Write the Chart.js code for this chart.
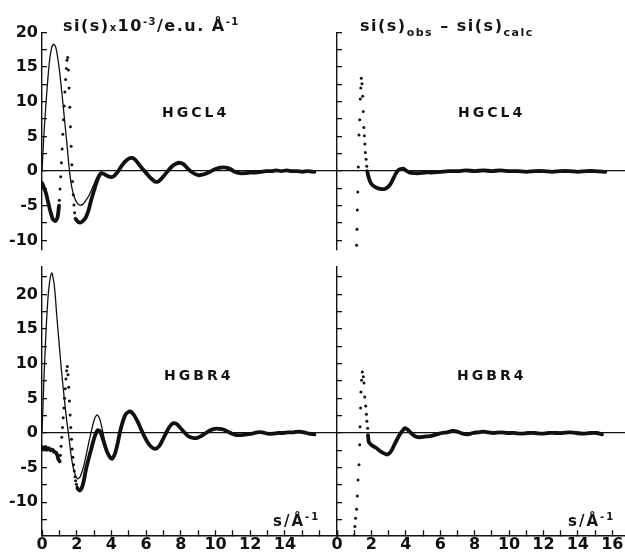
<!DOCTYPE html>
<html>
<head>
<meta charset="utf-8">
<script src="https://cdn.jsdelivr.net/npm/chart.js@4.4.0/dist/chart.umd.min.js"></script>
<style>
html,body{margin:0;padding:0;background:#fff;}
#wrap{position:relative;width:625px;height:555px;overflow:hidden;background:#fff;font-family:"DejaVu Sans",sans-serif;font-weight:bold;color:#141414;}
.pane{position:absolute;}
.pane canvas{display:block;}
.txt{position:absolute;white-space:nowrap;z-index:5;}
.sup{font-size:10px;position:relative;top:-6px;}
.sub{font-size:11px;position:relative;top:5px;}
</style>
</head>
<body>
<div id="wrap">
  <div class="pane" style="left:0;top:0;"><canvas id="cTL" width="340" height="258"></canvas></div>
  <div class="pane" style="left:320px;top:0;"><canvas id="cTR" width="305" height="258"></canvas></div>
  <div class="pane" style="left:0;top:258px;"><canvas id="cBL" width="340" height="297"></canvas></div>
  <div class="pane" style="left:320px;top:258px;"><canvas id="cBR" width="305" height="297"></canvas></div>

  <div class="txt" style="left:63px;top:18px;font-size:16px;line-height:16px;letter-spacing:1.5px;">si(s)<span style="font-size:10px;">x</span>10<span class="sup">-3</span>/e.u.&nbsp;Å<span class="sup">-1</span></div>
  <div class="txt" style="left:360px;top:18px;font-size:16px;line-height:16px;letter-spacing:1.5px;">si(s)<span class="sub">obs</span> – si(s)<span class="sub">calc</span></div>

  <div class="txt" style="left:162px;top:105px;font-size:14px;line-height:14px;letter-spacing:3px;">HGCL4</div>
  <div class="txt" style="left:458px;top:105px;font-size:14px;line-height:14px;letter-spacing:3px;">HGCL4</div>
  <div class="txt" style="left:164px;top:368px;font-size:14px;line-height:14px;letter-spacing:3px;">HGBR4</div>
  <div class="txt" style="left:457px;top:368px;font-size:14px;line-height:14px;letter-spacing:3px;">HGBR4</div>

  <div class="txt" style="left:273px;top:514px;font-size:15px;line-height:15px;letter-spacing:2px;">s/Å<span class="sup">-1</span></div>
  <div class="txt" style="left:568px;top:514px;font-size:15px;line-height:15px;letter-spacing:2px;">s/Å<span class="sup">-1</span></div>
</div>

<script>
// ---------------- DATA ----------------
// tick labels
const yTickLabels = [-10, -5, 0, 5, 10, 15, 20];
const xTickLabelsLeft = [0, 2, 4, 6, 8, 10, 12, 14];
const xTickLabelsRight = [0, 2, 4, 6, 8, 10, 12, 14, 16];

// HGCL4, left panel: calculated curve (thin line)
const clCalcS = [0,0.1,0.23,0.42,0.55,0.68,0.82,1.0,1.15,1.29,1.45,1.58,1.72,1.87,2.02,2.16,2.35,2.54,2.75,2.93,3.1,3.31,3.5,3.64];
const clCalcV = [0,4.8,9.8,15.6,17.7,18.3,17.6,14.6,11.2,7.6,3.6,0.1,-2.4,-3.8,-4.6,-4.9,-4.8,-4.2,-3.3,-2.3,-1.3,-0.4,-0.2,-0.5];
// HGCL4, left panel: observed curve (thick), low-s part
const clObsLowS = [0,0.1,0.23,0.42,0.62,0.77,0.9,0.98];
const clObsLowV = [-1.7,-2.3,-3.2,-5.2,-6.9,-7.2,-6.6,-5.0];
// HGCL4, left panel: dotted points
const clDotS = [1.00,1.04,1.08,1.12,1.16,1.20,1.24,1.28,1.32,1.36,1.40,1.44,1.48,1.52,1.56,1.60,1.64,1.68,1.72,1.76,1.80,1.84,1.88,1.92];
const clDotV = [-4.2,-2.6,-0.8,1.2,3.2,5.3,7.4,9.4,11.4,13.2,14.8,16.0,16.4,14.6,12.0,9.2,6.4,3.6,0.9,-1.5,-3.4,-4.9,-6.0,-6.8];
// HGCL4, left panel: observed curve (thick), main part
const clObsS = [1.95,2.05,2.15,2.25,2.4,2.54,2.7,2.83,3.0,3.12,3.25,3.41,3.55,3.7,3.85,4.03,4.15,4.3,4.45,4.6,4.8,5.0,5.18,5.35,5.55,5.8,6.05,6.3,6.5,6.65,6.8,7.05,7.28,7.5,7.75,7.95,8.15,8.35,8.55,8.8,9.03,9.25,9.5,9.75,10.0,10.3,10.6,10.85,11.1,11.4,11.7,12.0,12.3,12.6,12.9,13.2,13.5,13.8,14.1,14.4,14.7,15.0,15.3,15.7];
const clObsV = [-6.95,-7.25,-7.4,-7.4,-7.1,-6.6,-5.5,-4.2,-2.8,-1.8,-0.9,-0.3,-0.4,-0.6,-0.8,-0.85,-0.7,-0.3,0.2,0.8,1.4,1.8,1.9,1.7,1.1,0.3,-0.4,-1.1,-1.5,-1.55,-1.3,-0.6,0.1,0.7,1.1,1.2,1.0,0.5,0.0,-0.4,-0.6,-0.5,-0.3,0.0,0.3,0.5,0.5,0.3,-0.1,-0.3,-0.3,-0.2,-0.2,-0.1,0.0,0.0,0.1,0.0,0.1,0.0,0.0,-0.1,0.0,-0.1];

// HGCL4, right panel: obs - calc
const clDiffDotS = [1.14,1.16,1.18,1.21,1.24,1.28,1.32,1.35,1.38,1.41,1.45,1.49,1.53,1.56,1.59,1.62,1.65,1.69,1.73];
const clDiffDotV = [-10.7,-8.4,-5.6,-3.0,0.6,5.2,7.4,10.4,12.0,13.4,12.6,10.8,8.6,6.3,5.1,3.9,2.7,1.7,0.7];
const clDiffS = [1.76,1.85,1.96,2.1,2.3,2.5,2.73,2.9,3.1,3.25,3.41,3.55,3.7,3.85,4.0,4.2,4.5,4.8,5.1,5.5,6.0,6.5,7.0,7.5,8.0,8.5,9.0,9.5,10.0,10.5,11.0,11.5,12.0,12.5,13.0,13.5,14.0,14.5,15.0,15.6];
const clDiffV = [0.0,-1.0,-1.7,-2.1,-2.4,-2.55,-2.6,-2.4,-1.9,-1.2,-0.4,0.1,0.3,0.35,0.1,-0.2,-0.3,-0.3,-0.2,-0.2,-0.1,0.0,0.0,0.1,0.0,0.1,0.0,0.1,0.0,0.0,-0.1,0.0,0.0,-0.1,0.0,0.0,-0.1,0.0,0.0,-0.1];

// HGBR4, left panel: calculated curve (thin line)
const brCalcS = [0,0.1,0.2,0.3,0.4,0.55,0.7,0.85,1.0,1.15,1.3,1.45,1.52,1.7,1.85,2.05,2.2,2.4,2.6,2.8,3.0,3.16,3.3,3.45,3.6,3.75,3.9,4.05];
const brCalcV = [0,7,13,17.8,21,23.1,21.5,17,12.5,8.3,4.6,1.3,0,-3.6,-5.5,-6.6,-6.3,-4.8,-2.5,-0.2,1.8,2.6,2.2,0.8,-1.0,-2.4,-3.4,-3.7];
// HGBR4, left panel: observed (thick), low-s part
const brObsLowS = [0,0.1,0.2,0.3,0.4,0.5,0.6,0.7,0.8,0.88,0.95,1.02];
const brObsLowV = [-2.0,-2.3,-2.0,-2.4,-2.2,-2.5,-2.4,-2.7,-2.8,-3.2,-3.8,-4.1];
// HGBR4, left panel: dotted points
const brDotS = [1.06,1.10,1.14,1.18,1.22,1.26,1.30,1.34,1.38,1.42,1.46,1.50,1.54,1.58,1.62,1.66,1.70,1.74,1.78,1.82,1.86,1.90,1.94,1.98,2.02];
const brDotV = [-3.2,-1.9,-0.6,0.8,2.2,3.6,5.0,6.4,7.8,9.0,9.6,8.4,6.6,4.6,2.6,0.8,-0.9,-2.3,-3.5,-4.6,-5.5,-6.3,-6.9,-7.4,-7.8];
// HGBR4, left panel: observed (thick), main part
const brObsS = [2.05,2.16,2.28,2.4,2.54,2.7,2.83,3.0,3.2,3.35,3.5,3.65,3.8,3.95,4.05,4.2,4.35,4.5,4.65,4.8,4.95,5.1,5.3,5.5,5.7,5.9,6.1,6.3,6.53,6.75,6.95,7.15,7.35,7.55,7.75,7.95,8.2,8.45,8.7,8.95,9.2,9.45,9.7,9.95,10.2,10.45,10.7,10.95,11.2,11.5,11.8,12.1,12.4,12.7,13.0,13.3,13.6,13.9,14.2,14.5,14.8,15.1,15.4,15.7];
const brObsV = [-8.0,-8.3,-8.0,-7.0,-5.2,-3.6,-2.4,-0.8,0.4,0.2,-0.8,-2.0,-3.0,-3.6,-3.7,-3.0,-1.6,0.2,1.6,2.6,3.0,3.1,2.6,1.7,0.6,-0.5,-1.4,-2.0,-2.3,-1.9,-1.0,0.0,0.9,1.4,1.3,0.8,0.1,-0.5,-0.7,-0.7,-0.4,0.0,0.4,0.6,0.6,0.5,0.2,-0.1,-0.3,-0.3,-0.2,-0.1,0.1,0.1,-0.1,-0.1,0.0,0.0,0.1,0.1,0.2,0.1,-0.1,-0.2];

// HGBR4, right panel: obs - calc
const brDiffDotS = [0.99,1.04,1.08,1.14,1.18,1.22,1.28,1.32,1.34,1.37,1.39,1.43,1.47,1.53,1.57,1.61,1.67,1.71,1.74,1.78];
const brDiffDotV = [-14.8,-13.5,-12.3,-11.0,-9.1,-6.8,-4.6,-1.7,0.9,3.6,5.9,7.6,8.8,8.1,7.2,5.2,3.9,2.7,1.7,0.7];
const brDiffS = [1.8,1.85,1.95,2.1,2.3,2.5,2.7,2.9,3.05,3.2,3.35,3.5,3.65,3.8,3.95,4.1,4.3,4.5,4.7,4.9,5.2,5.5,5.8,6.1,6.4,6.7,7.0,7.3,7.6,7.9,8.2,8.5,8.8,9.1,9.5,9.9,10.3,10.7,11.1,11.5,11.9,12.3,12.7,13.1,13.5,13.9,14.3,14.7,15.1,15.4];
const brDiffV = [-0.3,-1.3,-1.6,-1.9,-2.2,-2.6,-2.9,-3.1,-2.9,-2.4,-1.6,-0.9,-0.2,0.3,0.7,0.5,0.0,-0.4,-0.6,-0.6,-0.5,-0.4,-0.2,0.0,0.1,0.3,0.2,-0.1,-0.2,0.0,0.1,0.2,0.1,0.0,0.1,0.0,0.0,-0.1,0.0,0.0,-0.1,0.0,0.0,0.0,0.1,0.0,-0.1,0.0,0.0,-0.2];

// ---------------- CHART BUILDING ----------------
const INK = '#111111';
const FONT = "'DejaVu Sans', sans-serif";
const pts = (s, v) => s.slice(0, Math.min(s.length, v.length)).map((x, i) => ({x: x, y: v[i]}));

const thick = (s, v) => ({data: pts(s, v), showLine: true, borderColor: INK, borderWidth: 3.8, pointRadius: 0, tension: 0.3, fill: false, borderCapStyle: 'round', borderJoinStyle: 'round'});
const thin = (s, v) => ({data: pts(s, v), showLine: true, borderColor: INK, borderWidth: 1.3, pointRadius: 0, tension: 0.3, fill: false});
const dots = (s, v) => ({data: pts(s, v), showLine: false, pointRadius: 1.5, pointBackgroundColor: INK, pointBorderWidth: 0, pointBorderColor: INK});

// regular ticks every `step` between the scale's min and max
function stepTicks(step) {
  return (scale) => {
    const out = [];
    const first = Math.ceil(scale.min / step - 1e-9);
    const last = Math.floor(scale.max / step + 1e-9);
    for (let k = first; k <= last; k++) out.push({value: Math.round(k * step * 1000) / 1000});
    scale.ticks = out;
  };
}

function panel(id, o) {
  new Chart(document.getElementById(id), {
    type: 'scatter',
    data: {datasets: o.datasets},
    options: {
      responsive: false,
      animation: false,
      devicePixelRatio: 1,
      events: [],
      layout: {autoPadding: false, padding: o.pad},
      plugins: {legend: {display: false}, tooltip: {enabled: false}, title: {display: false}},
      scales: {
        x: {
          type: 'linear', min: 0, max: o.xmax, display: o.showX,
          border: {display: true, color: INK, width: 1.4},
          grid: {drawOnChartArea: false, tickLength: -5, tickColor: INK, tickWidth: 1.3},
          ticks: {
            stepSize: 1, autoSkip: false, maxRotation: 0, padding: 5, color: INK,
            font: {family: FONT, size: 16, weight: 'bold'},
            callback: (v) => o.xLabels.includes(v) ? String(v) : ''
          },
          afterBuildTicks: stepTicks(1),
          afterFit: (s) => { s.height = o.xh; s.paddingLeft = 0; s.paddingRight = 0; }
        },
        y: {
          type: 'linear', min: o.ymin, max: o.ymax,
          border: {display: true, color: INK, width: 1.4},
          grid: {
            drawOnChartArea: true,
            color: (c) => (c.tick && c.tick.value === 0) ? INK : 'rgba(0,0,0,0)',
            lineWidth: 1.3, tickLength: -5, tickColor: INK, tickWidth: 1.3
          },
          ticks: {
            display: o.showYLabels, stepSize: 2.5, autoSkip: false, padding: 9, color: INK,
            font: {family: FONT, size: 16, weight: 'bold'},
            callback: (v) => yTickLabels.includes(v) ? String(v) : ''
          },
          afterBuildTicks: stepTicks(2.5),
          afterFit: (s) => { s.width = o.yw; s.paddingTop = 0; s.paddingBottom = 0; }
        }
      }
    }
  });
}

// top-left: HGCL4 si(s)
panel('cTL', {
  datasets: [thick(clObsLowS, clObsLowV), dots(clDotS, clDotV), thick(clObsS, clObsV), thin(clCalcS, clCalcV)],
  pad: {top: 32.5, bottom: 8.6, left: 0, right: 3},
  xmax: 17, ymin: -11.3, ymax: 20, showX: false, xh: 0, xLabels: xTickLabelsLeft,
  showYLabels: true, yw: 42
});
// top-right: HGCL4 difference
panel('cTR', {
  datasets: [dots(clDiffDotS, clDiffDotV), thick(clDiffS, clDiffV)],
  pad: {top: 32.5, bottom: 8.6, left: 0, right: 0},
  xmax: 16.74, ymin: -11.3, ymax: 20, showX: false, xh: 0, xLabels: xTickLabelsRight,
  showYLabels: false, yw: 17
});
// bottom-left: HGBR4 si(s)
panel('cBL', {
  datasets: [thick(brObsLowS, brObsLowV), dots(brDotS, brDotV), thick(brObsS, brObsV), thin(brCalcS, brCalcV)],
  pad: {top: 8.7, bottom: 0, left: 0, right: 3},
  xmax: 17, ymin: -14.75, ymax: 24, showX: true, xh: 19.8, xLabels: xTickLabelsLeft,
  showYLabels: true, yw: 42
});
// bottom-right: HGBR4 difference
panel('cBR', {
  datasets: [dots(brDiffDotS, brDiffDotV), thick(brDiffS, brDiffV)],
  pad: {top: 8.7, bottom: 0, left: 0, right: 0},
  xmax: 16.74, ymin: -14.75, ymax: 24, showX: true, xh: 19.8, xLabels: xTickLabelsRight,
  showYLabels: false, yw: 17
});
</script>
</body>
</html>
